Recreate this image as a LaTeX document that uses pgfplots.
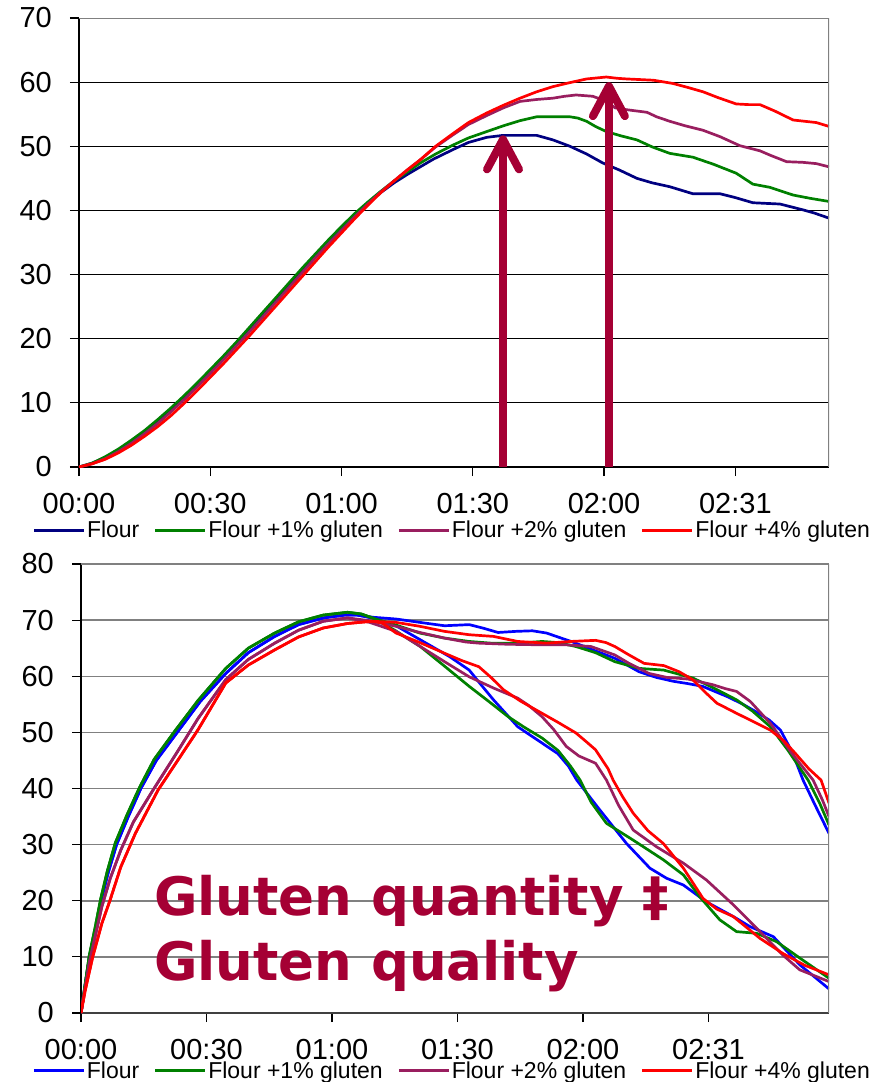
\documentclass[border=0pt]{standalone}
\usepackage{pgfplots}
\pgfplotsset{compat=1.18}
\usepackage{fontspec}
\setmainfont{Liberation Sans}
\newfontfamily\notefont{DejaVu Sans}
\usetikzlibrary{arrows.meta}

\definecolor{flourA}{RGB}{0,0,128}
\definecolor{flourB}{RGB}{0,0,255}
\definecolor{glutA}{RGB}{0,128,0}
\definecolor{glutB}{RGB}{153,30,95}
\definecolor{glutC}{RGB}{255,0,0}
\definecolor{accent}{RGB}{165,0,52}
\definecolor{frame}{RGB}{128,128,128}

\pgfplotsset{
  mixbase/.style={
    scale only axis,
    xmin=0, ymin=0,
    axis x line*=bottom, axis y line*=left,
    axis line style={black, line width=1.5pt, -},
    tick align=outside, major tick length=9pt,
    every tick/.style={black, line width=1.2pt},
    xtick={0,30,60,90,120,150},
    xticklabels={00:00,00:30,01:00,01:30,02:00,02:31},
    ymajorgrids,
    tick label style={font=\fontsize{29}{34}\selectfont},
    /pgf/number format/assume math mode=true,
    xticklabel style={anchor=north, inner sep=0pt, yshift=-17pt},
    yticklabel style={anchor=east, inner sep=0pt, xshift=-18pt},
    legend columns=4,
    legend cell align=left,
    legend image code/.code={\draw[#1, line width=3pt] (0pt,0pt) -- (50pt,0pt);},
    every axis plot/.append style={line width=2.7pt, line join=round},
  }
}

\begin{document}
\begin{tikzpicture}
\path[use as bounding box] (0pt,0pt) rectangle (877pt,-1082pt);

% ---------------- upper panel ----------------
\begin{axis}[mixbase,
  at={(79pt,-467pt)}, anchor=south west,
  width=750pt, height=449pt,
  xmax=171.4, ymax=70,
  ytick={0,10,20,30,40,50,60,70},
  grid style={black, line width=1pt},
  legend style={at={(axis description cs:-0.062,-0.1403)}, anchor=west,
    draw=none, fill=none, inner sep=0pt, outer sep=0pt,
    font=\fontsize{23}{27}\selectfont,
    nodes={inner sep=1.5pt},
    /tikz/every even column/.append style={column sep=13pt}},
]
\addplot[flourA] coordinates {
(0,0) (3,0.6) (6,1.5) (9,2.7) (12,4.0) (15,5.5) (18,7.1) (21,8.9) (24,10.8)
(27,12.8) (30,14.9) (33,17.0) (36,19.2) (39,21.4) (42,23.7) (45,26.0) (48,28.3)
(51,30.6) (54,32.8) (57,35.0) (60,37.2) (63,39.2) (66,41.1) (69,42.8) (72,44.3)
(75,45.6) (78,46.8) (81,48.0) (85.5,49.5) (89,50.6) (93.2,51.4) (96.9,51.7)
(104.6,51.7) (108.3,51.0) (112.2,50.0) (116,48.8) (119.7,47.4) (123.5,46.3)
(127.5,45.0) (131,44.3) (135,43.7) (140.3,42.6) (146.5,42.6) (150,42.0)
(154,41.2) (157,41.1) (160.2,41.0) (165.4,40.1) (168,39.6) (171.4,38.8)};
\addlegendentry{Flour}
\addplot[glutA] coordinates {
(0,0) (3,0.6) (6,1.6) (9,2.8) (12,4.2) (15,5.7) (18,7.4) (21,9.2) (24,11.1)
(27,13.1) (30,15.2) (33,17.3) (36,19.5) (39,21.8) (42,24.1) (45,26.4) (48,28.7)
(51,31.0) (54,33.2) (57,35.4) (60,37.5) (63,39.5) (66,41.3) (69,43.0) (72,44.6)
(75,46.0) (78,47.4) (81.5,48.8) (85.5,50.2) (89,51.3) (93.2,52.3) (97,53.2)
(100.8,54.0) (104.6,54.6) (108,54.6) (112.2,54.6) (114,54.4) (116,53.9)
(118,53.1) (120.5,52.3) (124,51.6) (127.5,51.0) (131,49.9) (135,48.9)
(140.3,48.3) (145,47.2) (150.2,45.8) (154,44.1) (157.9,43.6) (163.2,42.4)
(167,41.9) (171.4,41.4)};
\addlegendentry{Flour +1\% gluten}
\addplot[glutB] coordinates {
(0,0) (3,0.5) (6,1.3) (9,2.4) (12,3.7) (15,5.2) (18,6.8) (21,8.6) (24,10.5)
(27,12.5) (30,14.6) (33,16.7) (36,18.9) (39,21.1) (42,23.4) (45,25.7) (48,28.0)
(51,30.3) (54,32.6) (57,34.8) (60,36.9) (63,39.0) (66,41.0) (69,42.9) (72,44.6)
(75,46.3) (78,47.9) (81.5,49.9) (85.5,51.8) (89,53.4) (93.2,54.8) (97,56.0)
(100.8,57.0) (104.6,57.3) (108.3,57.5) (111,57.8) (113.6,58.0) (117.4,57.8)
(119,57.4) (120.5,57.0) (122.5,56.0) (125.2,55.7) (129.8,55.3) (132,54.6)
(135,53.9) (138.5,53.2) (142.6,52.5) (146.5,51.5) (151,50.1) (155.6,49.3)
(158,48.6) (161.7,47.6) (165.4,47.5) (168.5,47.3) (171.4,46.8)};
\addlegendentry{Flour +2\% gluten}
\addplot[glutC] coordinates {
(0,0) (3,0.5) (6,1.2) (9,2.2) (12,3.4) (15,4.8) (18,6.3) (21,8.0) (24,9.9)
(27,11.9) (30,14.0) (33,16.1) (36,18.3) (39,20.5) (42,22.8) (45,25.1) (48,27.4)
(51,29.7) (54,32.0) (57,34.3) (60,36.5) (63,38.7) (66,40.8) (69,42.8) (72,44.6)
(75,46.3) (78,47.9) (81.5,50.0) (85.5,52.0) (89,53.7) (93.2,55.2) (97,56.4)
(100.8,57.5) (104.6,58.5) (108.3,59.3) (112,59.9) (116,60.5) (120.5,60.8)
(123,60.6) (125.2,60.5) (131.3,60.3) (135.7,59.8) (139,59.2) (142.6,58.5)
(146,57.6) (150.2,56.6) (153,56.5) (155.6,56.5) (159,55.5) (163.2,54.1)
(168.5,53.7) (171.4,53.1)};
\addlegendentry{Flour +4\% gluten}
% peak markers
\draw[accent, line width=8pt, -{Straight Barb[length=30pt, width=32pt, round]}]
  (axis cs:96.9,0) -- (axis cs:96.9,51.7);
\draw[accent, line width=8pt, -{Straight Barb[length=30pt, width=32pt, round]}]
  (axis cs:121.1,0) -- (axis cs:121.1,60.0);
\draw[frame, line width=2pt] (rel axis cs:0,1) -- (rel axis cs:1,1) -- (rel axis cs:1,0);
\end{axis}

% ---------------- lower panel ----------------
\begin{axis}[mixbase,
  at={(81pt,-1013pt)}, anchor=south west,
  width=748pt, height=449pt,
  xmax=178.8, ymax=80,
  ytick={0,10,20,30,40,50,60,70,80},
  grid style={frame, line width=1.5pt},
  x axis line style={draw=black!75, line width=2pt},
  legend style={at={(axis description cs:-0.065,-0.129)}, anchor=west,
    draw=none, fill=none, inner sep=0pt, outer sep=0pt,
    font=\fontsize{23}{27}\selectfont,
    nodes={inner sep=1.5pt},
    /tikz/every even column/.append style={column sep=13pt}},
]
% Flour
\addplot[flourB] coordinates {
(0,0) (1,5) (2,10) (3.5,15) (4.8,20) (6.5,25) (8.5,30) (11.3,35) (14.3,40)
(18,45) (23,50) (28.5,55.5) (34.6,60.5) (40,64.2) (46.3,67.1) (52,69.2)
(58,70.4) (63,70.9) (66,70.9) (70,70.5) (75.3,70.2) (81,69.6) (86.9,69.0)
(92.8,69.2) (96,68.6) (99.7,67.8) (104,68.0) (107.9,68.1) (111.3,67.7)
(114,67.0) (117.2,66.2) (122,64.8) (127.6,63.2) (130.5,62.0) (133.4,60.8)
(137.5,59.8) (141.6,59.1) (145,58.7) (148.6,58.2) (154.4,56.4) (158,55.1)
(161.3,53.7) (164.5,52.2) (167.2,50.4) (170,46.5) (172.6,41.5) (175.5,37)
(178.8,32.0)};
\addlegendentry{Flour}
\addplot[flourB, forget plot] coordinates {
(0,0) (1,5) (2,10) (3.5,15) (4.8,20) (6.5,25) (8.5,30) (11.3,35) (14.3,40)
(18,45) (23,50) (28.5,55.5) (34.6,60.5) (40,64.2) (46.3,67.1) (52,69.2)
(58,70.4) (63,70.9) (66,70.9) (70,70.3) (75.3,69.0) (81.1,66.5) (88.1,63.5)
(92.8,61.1) (95.5,58.6) (98.6,55.8) (104.4,51.0) (110.2,48.1) (114,46.2)
(116.5,44.0) (118.5,41.5) (124,36.2) (130.4,30.2) (136,25.8) (140,24.0)
(144,22.8) (149.5,19.8) (155.9,17.2) (159.9,15.4) (165.5,13.6) (171.8,8.6)
(178.8,4.3)};
% +1 %
\addplot[glutA] coordinates {
(0,0) (1,5.2) (2,10.3) (3.4,15.3) (4.7,20.3) (6.3,25.3) (8.2,30.3) (11,35.3)
(14,40.2) (17.5,45.2) (22.5,50.3) (28,55.7) (34.6,61.4) (40,65) (46.3,67.7)
(52,69.7) (57.9,70.9) (63.7,71.4) (67,71.1) (70,70.3) (75,69.2) (81,67.7)
(86.9,66.8) (92.8,66.2) (98,65.9) (104.4,65.9) (110.2,66.2) (114,66.0)
(118.3,65.3) (123,64.2) (127.6,62.6) (133.4,61.4) (139.3,61.1) (146.2,59.7)
(151,58.0) (156.7,55.8) (160.5,53.8) (164.8,51.0) (169,46.8) (173.8,41.5)
(176.5,37.5) (178.8,33.5)};
\addlegendentry{Flour +1\% gluten}
\addplot[glutA, forget plot] coordinates {
(0,0) (1,5.2) (2,10.3) (3.4,15.3) (4.7,20.3) (6.3,25.3) (8.2,30.3) (11,35.3)
(14,40.2) (17.5,45.2) (22.5,50.3) (28,55.7) (34.6,61.4) (40,65) (46.3,67.7)
(52,69.7) (57.9,70.9) (63.7,71.4) (67,71.1) (70,70.3) (75,68.2) (81.1,65.3)
(86.9,61.8) (92.8,58.2) (97.5,55.5) (102.1,52.8) (106,50.9) (110.2,49.0)
(114,46.8) (117,44.0) (119.3,41.5) (122,37.5) (125.6,33.8) (132,30.8)
(139.2,27.3) (144,24.6) (147.9,20.7) (152.7,16.6) (156.7,14.5) (161.5,14.2)
(166.3,12.7) (171.8,9.8) (178.8,6.2)};
% +2 %
\addplot[glutB] coordinates {
(0,0) (1,4.5) (2,9) (3.5,14) (5,19) (7,24) (9.5,29) (12.5,34) (17.2,39.7)
(23,46.5) (28,52.5) (34.6,59.4) (40,63) (46.3,65.9) (52,68.2) (57.9,69.8)
(63.7,70.4) (69,69.9) (75.3,68.9) (81,67.8) (86.9,66.8) (92,66.1) (95.1,65.9)
(102,65.7) (110.2,65.6) (116,65.6) (121.9,65.3) (127.6,63.8) (131,62.3)
(135.8,60.5) (140,59.8) (145.1,59.5) (151,58.5) (154,57.8) (156.7,57.3)
(160,55.5) (164.8,51.6) (170,46.2) (175,41.5) (177.2,38) (178.8,35.0)};
\addlegendentry{Flour +2\% gluten}
\addplot[glutB, forget plot] coordinates {
(0,0) (1,4.5) (2,9) (3.5,14) (5,19) (7,24) (9.5,29) (12.5,34) (17.2,39.7)
(23,46.5) (28,52.5) (34.6,59.4) (40,63) (46.3,65.9) (52,68.2) (57.9,69.8)
(63.7,70.4) (69,69.6) (75.3,68.0) (81.1,65.3) (86.9,62.6) (92.8,59.9)
(98.6,57.9) (104.4,56.1) (107,54.8) (110.2,52.8) (113,50.5) (116,47.5)
(119,45.8) (123,44.5) (125.6,41.5) (128.5,37) (132,32.6) (137.6,29.6)
(144,26.7) (149.5,23.7) (155.9,19.3) (162.3,14.5) (167.8,10.3) (171.8,7.7)
(178.8,5.6)};
% +4 %
\addplot[glutC] coordinates {
(0,0) (1,4) (2.8,10) (5,16) (6.9,20) (9.5,26) (13,32) (18.4,39.7) (24,46)
(28,50.5) (34.6,58.8) (40,62) (46.3,64.7) (52,67) (57.9,68.6) (63.7,69.4)
(69.5,69.8) (75.3,69.6) (81,68.9) (86.9,68.0) (92.8,67.4) (98.6,67.1)
(104.4,66.2) (111.3,65.9) (117,66.2) (123,66.4) (125.5,66.0) (127.6,65.3)
(131,63.8) (134.6,62.3) (139.3,61.9) (143,60.8) (146.2,59.4) (149,57.3)
(152,55.2) (156.7,53.4) (160.5,52.0) (164.8,50.4) (168,48.5) (170.7,46.3)
(174,43.5) (176.9,41.5) (178.8,37.4)};
\addlegendentry{Flour +4\% gluten}
\addplot[glutC, forget plot] coordinates {
(0,0) (1,4) (2.8,10) (5,16) (6.9,20) (9.5,26) (13,32) (18.4,39.7) (24,46)
(28,50.5) (34.6,58.8) (40,62) (46.3,64.7) (52,67) (57.9,68.6) (63.7,69.4)
(69.5,69.8) (72,69.5) (75.3,67.7) (81,66.0) (86.9,64.1) (91,62.8) (95.1,61.7)
(98,59.8) (101,57.6) (105,55.6) (110.2,53.4) (114,51.8) (118.3,49.9)
(121,48.2) (123,46.9) (126,43.5) (127.2,41.5) (129.5,38.5) (132,35.6)
(135.5,32.5) (139.2,30.2) (144,25.8) (148.7,20.4) (152,18.5) (155.9,17.2)
(162.3,13.3) (167.8,10.6) (173,8.5) (178.8,6.8)};
\draw[frame, line width=2.5pt] (rel axis cs:0,1) -- (rel axis cs:1,1) -- (rel axis cs:1,0);
\end{axis}

% annotation
\node[anchor=base west, inner sep=0pt, text=accent,
  font=\notefont\bfseries\fontsize{53}{60}\selectfont] at (154pt,-915pt) {Gluten quantity ‡};
\node[anchor=base west, inner sep=0pt, text=accent,
  font=\notefont\bfseries\fontsize{53}{60}\selectfont] at (154pt,-980pt) {Gluten quality};
\end{tikzpicture}
\end{document}
